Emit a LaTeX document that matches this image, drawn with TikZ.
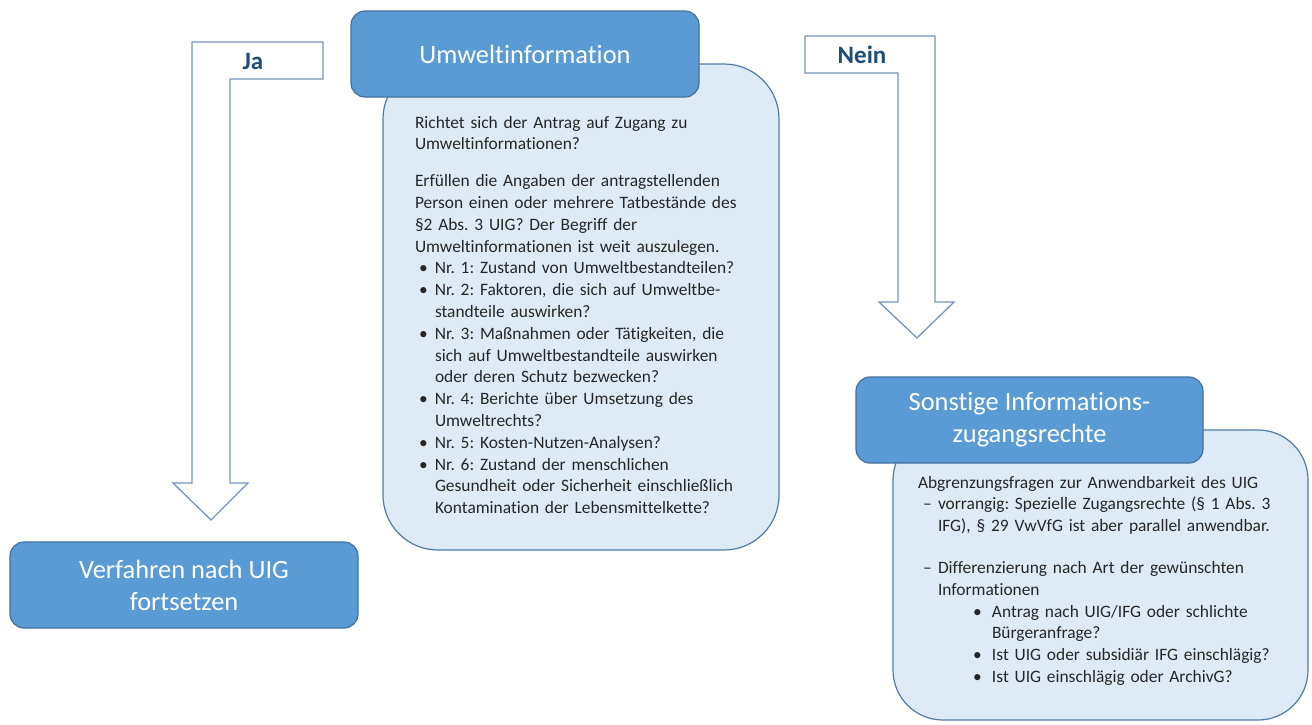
\documentclass[tikz,border=0pt]{standalone}
\usepackage{fontspec}
\setmainfont{Carlito}[Ligatures=NoCommon]
\definecolor{hdrfill}{HTML}{5B9BD5}
\definecolor{hdrline}{HTML}{41719C}
\definecolor{bodyfill}{HTML}{DEEBF7}
\definecolor{bodyline}{HTML}{4F7BA8}
\definecolor{arrowline}{HTML}{7594BD}
\definecolor{labelc}{HTML}{1F4E79}
\definecolor{txtc}{HTML}{262626}
\newcommand{\mybitem}[1]{\par\hangindent=20pt\hangafter=1\noindent\hspace*{4pt}\makebox[16pt][l]{\textbullet}#1}
\newcommand{\mydashitem}[1]{\par\hangindent=20pt\hangafter=1\noindent\hspace*{5pt}\makebox[15pt][l]{–}#1}
\newcommand{\mysubitem}[1]{\par\hangindent=74pt\hangafter=1\noindent\hspace*{55pt}\makebox[19pt][l]{\textbullet}#1}
\frenchspacing
\begin{document}
\begin{tikzpicture}[x=1pt,y=-1pt,
  hdrbox/.style={draw=hdrline, fill=hdrfill, line width=1.2pt, rounded corners=14pt,
    inner sep=0pt, outer sep=0pt, anchor=north west, text=white, align=center,
    font=\fontsize{26.4}{32}\selectfont},
  bodybox/.style={draw=bodyline, fill=bodyfill, line width=1.2pt, rounded corners=55pt,
    inner sep=0pt, outer sep=0pt, anchor=north west},
  bodytext/.style={anchor=base west, inner sep=0pt, outer sep=0pt, align=left, text=txtc,
    font=\fontsize{17.4}{21.8}\selectfont\frenchspacing},
  blockarrow/.style={draw=arrowline, fill=white, line width=1.3pt, line join=miter},
  choicelabel/.style={text=labelc, inner sep=0pt, font=\fontsize{25}{30}\selectfont\bfseries}
]
\useasboundingbox (0,0) rectangle (1312,724);
\fill[white] (0,0) rectangle (1312,724);

% block arrows
\draw[blockarrow] (323,42) -- (192,42) -- (192,483) -- (173,483) -- (211,520)
  -- (248,483) -- (230,483) -- (230,79) -- (323,79) -- cycle;
\node[choicelabel] (ja) at (253,61) {Ja};

\draw[blockarrow] (805,36) -- (935,36) -- (935,302) -- (954,302) -- (917,338)
  -- (879,302) -- (898,302) -- (898,73) -- (805,73) -- cycle;
\node[choicelabel] (nein) at (862,55) {Nein};

% Umweltinformation
\node[bodybox, minimum width=396pt, minimum height=486pt] (ubody) at (383,64) {};
\node[hdrbox, minimum width=348pt, minimum height=86pt] (uhead) at (351,11) {Umweltinformation};
\node[bodytext, text width=370pt] (utext) at (415,128) {%
Richtet sich der Antrag auf Zugang zu\newline
Umweltinformationen?\par\vspace{15pt}
\noindent Erfüllen die Angaben der antragstellenden\newline
Person einen oder mehrere Tatbestände des\newline
§2 Abs. 3 UIG? Der Begriff der\newline
Umweltinformationen ist weit auszulegen.
\mybitem{Nr. 1: Zustand von Umweltbestandteilen?}
\mybitem{Nr. 2: Faktoren, die sich auf Umweltbe-\newline standteile auswirken?}
\mybitem{Nr. 3: Maßnahmen oder Tätigkeiten, die\newline sich auf Umweltbestandteile auswirken\newline oder deren Schutz bezwecken?}
\mybitem{Nr. 4: Berichte über Umsetzung des\newline Umweltrechts?}
\mybitem{Nr. 5: Kosten-Nutzen-Analysen?}
\mybitem{Nr. 6: Zustand der menschlichen\newline Gesundheit oder Sicherheit einschließlich\newline Kontamination der Lebensmittelkette?}\par};

% Sonstige Informationszugangsrechte
\node[bodybox, rounded corners=50pt, minimum width=415pt, minimum height=290pt] (sbody) at (893,430) {};
\node[hdrbox, minimum width=347pt, minimum height=86pt] (shead) at (856,377) {Sonstige Informations-\\zugangsrechte};
\node[bodytext, text width=385pt] (stext) at (918,488) {%
Abgrenzungsfragen zur Anwendbarkeit des UIG
\mydashitem{vorrangig: Spezielle Zugangsrechte (§ 1 Abs. 3\newline IFG), § 29 VwVfG ist aber parallel anwendbar.}
\par\vspace{20pt}
\mydashitem{Differenzierung nach Art der gewünschten\newline Informationen}
\mysubitem{Antrag nach UIG/IFG oder schlichte\newline Bürgeranfrage?}
\mysubitem{Ist UIG oder subsidiär IFG einschlägig?}
\mysubitem{Ist UIG einschlägig oder ArchivG?}\par};

% Verfahren nach UIG
\node[hdrbox, minimum width=348pt, minimum height=86pt] (verf) at (10,542) {Verfahren nach UIG\\fortsetzen};
\end{tikzpicture}
\end{document}
